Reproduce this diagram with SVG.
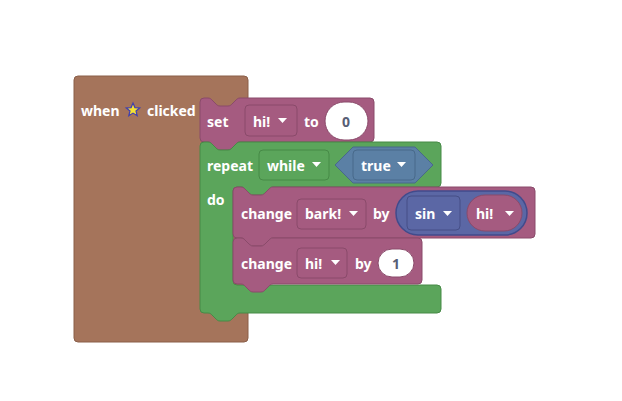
<svg xmlns="http://www.w3.org/2000/svg" width="622" height="401" viewBox="0 0 622 401">
  <style>
    .txt { font-family: "Noto Sans", "Open Sans", "Liberation Sans", sans-serif; font-weight: 700; font-size: 14px; fill: #ffffff; }
    .num { font-family: "Noto Sans", "Open Sans", "Liberation Sans", sans-serif; font-weight: 700; font-size: 14px; fill: #575e75; text-anchor: middle; }
    .event { fill: #a5745b; stroke: #8a5f49; stroke-width: 1; }
    .loop { fill: #5ba55b; stroke: #478a47; stroke-width: 1; }
    .var { fill: #a55b80; stroke: #8a4a6a; stroke-width: 1; }
    .logic { fill: #5b80a5; stroke: #48698a; stroke-width: 1; }
    .math { fill: #5b67a5; stroke: #414b8c; stroke-width: 1.5; }
    .dd-var { fill: #a55b80; stroke: #8a4a6a; stroke-width: 1; }
    .dd-loop { fill: #5ba55b; stroke: #478a47; stroke-width: 1; }
    .dd-logic { fill: #5b80a5; stroke: #48698a; stroke-width: 1; }
    .dd-math { fill: #5b67a5; stroke: #464f86; stroke-width: 1; }
    .socket { fill: #ffffff; stroke: #8a4a6a; stroke-width: 1; }
    .arrow { fill: #ffffff; }
  </style>
  <defs>
    <path id="tri" d="M0,0 h9 l-4.5,5 z"/>
  </defs>

  <!-- event hat block -->
  <g id="when-clicked">
    <rect class="event" x="74" y="76" width="174" height="266" rx="4"/>
    <text class="txt" x="81" y="116">when</text>
    <polygon points="133,103 134.9,107.6 139.7,107.9 136,111 137.2,115.7 133,113.1 128.8,115.7 130,111 126.3,107.9 131.1,107.6" fill="#f5e133" stroke="#3f3fb0" stroke-width="1.2"/>
    <text class="txt" x="147" y="116">clicked</text>
  </g>

  <g id="blocks">
    <!-- set hi! to 0 -->
    <g id="set-hi">
      <path class="var" d="M200,102 a4,4 0 0 1 4,-4 H208 c2,0 3,1 4,2 l4,4 c1,1 2,2 4,2 h8 c2,0 3,-1 4,-2 l4,-4 c1,-1 2,-2 4,-2 H370 a4,4 0 0 1 4,4 V138 a4,4 0 0 1 -4,4 H240 c-2,0 -3,1 -4,2 l-4,4 c-1,1 -2,2 -4,2 h-8 c-2,0 -3,-1 -4,-2 l-4,-4 c-1,-1 -2,-2 -4,-2 H204 a4,4 0 0 1 -4,-4 Z"/>
      <text class="txt" x="207" y="127">set</text>
      <rect class="dd-var" x="245" y="105" width="52" height="31" rx="4"/>
      <text class="txt" x="253" y="127">hi!</text>
      <use href="#tri" class="arrow" x="278" y="118"/>
      <text class="txt" x="304" y="127">to</text>
      <rect class="socket" x="325" y="102" width="43" height="38" rx="19"/>
      <text class="num" x="346" y="127">0</text>
    </g>

    <!-- repeat while true -->
    <g id="repeat-while">
      <path class="loop" d="M200,146 a4,4 0 0 1 4,-4 H208 c2,0 3,1 4,2 l4,4 c1,1 2,2 4,2 h8 c2,0 3,-1 4,-2 l4,-4 c1,-1 2,-2 4,-2 H437 a4,4 0 0 1 4,4 V183 a4,4 0 0 1 -4,4 H273 c-2,0 -3,1 -4,2 l-4,4 c-1,1 -2,2 -4,2 h-8 c-2,0 -3,-1 -4,-2 l-4,-4 c-1,-1 -2,-2 -4,-2 H237 a4,4 0 0 0 -4,4 V281 a4,4 0 0 0 4,4 H437 a4,4 0 0 1 4,4 V309 a4,4 0 0 1 -4,4 H240 c-2,0 -3,1 -4,2 l-4,4 c-1,1 -2,2 -4,2 h-8 c-2,0 -3,-1 -4,-2 l-4,-4 c-1,-1 -2,-2 -4,-2 H204 a4,4 0 0 1 -4,-4 Z"/>
      <text class="txt" x="207" y="171">repeat</text>
      <rect class="dd-loop" x="259" y="150" width="70" height="30" rx="4"/>
      <text class="txt" x="267" y="171">while</text>
      <use href="#tri" class="arrow" x="312" y="162"/>
      <text class="txt" x="207" y="205">do</text>
    </g>

    <!-- boolean true -->
    <g id="logic-true">
      <path class="logic" d="M353,147 H415 L433,165 L415,183 H353 L335,165 Z"/>
      <rect class="dd-logic" x="353" y="150" width="62" height="30" rx="4"/>
      <text class="txt" x="361" y="171">true</text>
      <use href="#tri" class="arrow" x="397" y="162"/>
    </g>

    <!-- change bark! by sin hi! -->
    <g id="change-bark">
      <path class="var" d="M233,191 a4,4 0 0 1 4,-4 H241 c2,0 3,1 4,2 l4,4 c1,1 2,2 4,2 h8 c2,0 3,-1 4,-2 l4,-4 c1,-1 2,-2 4,-2 H531 a4,4 0 0 1 4,4 V234 a4,4 0 0 1 -4,4 H273 c-2,0 -3,1 -4,2 l-4,4 c-1,1 -2,2 -4,2 h-8 c-2,0 -3,-1 -4,-2 l-4,-4 c-1,-1 -2,-2 -4,-2 H237 a4,4 0 0 1 -4,-4 Z"/>
      <text class="txt" x="241" y="219">change</text>
      <rect class="dd-var" x="297" y="199" width="69" height="30" rx="4"/>
      <text class="txt" x="305" y="219">bark!</text>
      <use href="#tri" class="arrow" x="349" y="211"/>
      <text class="txt" x="373" y="219">by</text>
    </g>

    <!-- sin hi! -->
    <g id="math-sin">
      <rect class="math" x="396" y="191" width="131" height="44" rx="22"/>
      <rect class="dd-math" x="407" y="196" width="53" height="34" rx="4"/>
      <text class="txt" x="415" y="219">sin</text>
      <use href="#tri" class="arrow" x="443" y="211"/>
    </g>

    <g id="var-hi">
      <rect class="var" x="467" y="195" width="55" height="36" rx="18"/>
      <text class="txt" x="476" y="219">hi!</text>
      <use href="#tri" class="arrow" x="505" y="211"/>
    </g>

    <!-- change hi! by 1 -->
    <g id="change-hi">
      <path class="var" d="M233,242 a4,4 0 0 1 4,-4 H241 c2,0 3,1 4,2 l4,4 c1,1 2,2 4,2 h8 c2,0 3,-1 4,-2 l4,-4 c1,-1 2,-2 4,-2 H418 a4,4 0 0 1 4,4 V280 a4,4 0 0 1 -4,4 H273 c-2,0 -3,1 -4,2 l-4,4 c-1,1 -2,2 -4,2 h-8 c-2,0 -3,-1 -4,-2 l-4,-4 c-1,-1 -2,-2 -4,-2 H237 a4,4 0 0 1 -4,-4 Z"/>
      <text class="txt" x="241" y="269">change</text>
      <rect class="dd-var" x="297" y="248" width="50" height="30" rx="4"/>
      <text class="txt" x="305" y="269">hi!</text>
      <use href="#tri" class="arrow" x="331" y="260"/>
      <text class="txt" x="355" y="269">by</text>
      <rect class="socket" x="378" y="249" width="36" height="28" rx="14"/>
      <text class="num" x="396" y="269">1</text>
    </g>
  </g>
</svg>
